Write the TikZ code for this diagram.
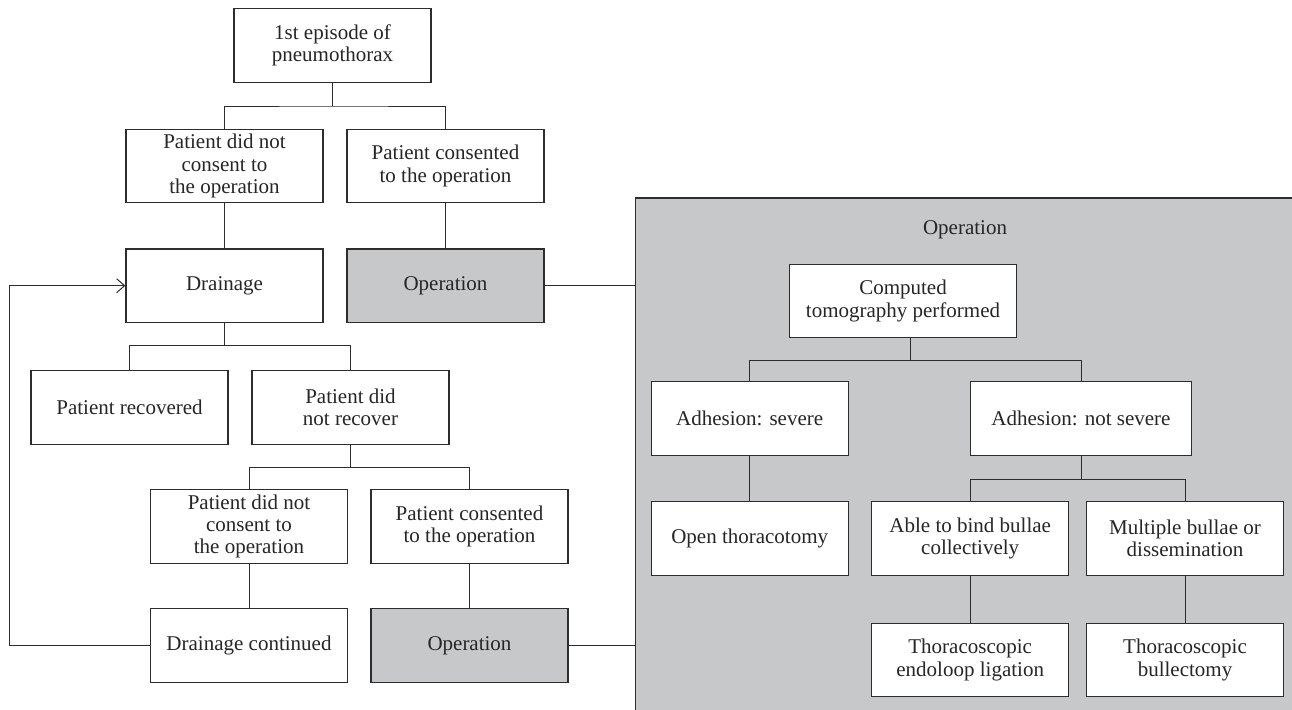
\documentclass[tikz,border=0pt]{standalone}
\usepackage{fontspec}
\setmainfont{Liberation Serif}
\usetikzlibrary{arrows.meta,calc}
\definecolor{panelgray}{RGB}{199,200,202}
\definecolor{linegray}{RGB}{45,45,45}
\tikzset{
  txt/.style={font=\fontsize{10.5}{11.2}\selectfont, text=black!85},
  box/.style={txt, draw=linegray, line width=0.65pt, fill=white,
    minimum width=98.5pt, minimum height=36.8pt, inner sep=0pt, align=center},
  greybox/.style={box, fill=panelgray},
  conn/.style={draw=linegray, line width=0.5pt},
  panelbox/.style={draw=linegray, line width=0.65pt, fill=panelgray, inner sep=0pt,
    minimum width=332.5pt, minimum height=258.9pt, anchor=north west},
}
\begin{document}
\begin{tikzpicture}[x=0.5pt,y=-0.5pt]
\useasboundingbox (0,0) rectangle (1292,709);
% panel
\node[panelbox] (panel) at (635,197.3) {};
\node[txt] (oplabel) at (965,230) {Operation};

% left tree nodes
\node[box] (ep) at (332.5,45.5) {1st episode of\\pneumothorax};
\node[box] (nc1) at (224.5,166) {Patient did not\\consent to\\the operation};
\node[box] (c1) at (445.5,166) {Patient consented\\to the operation};
\node[box] (dr) at (224.5,285.7) {Drainage};
\node[greybox] (op1) at (445.5,285.7) {Operation};
\node[box] (rec) at (129.5,407.5) {Patient recovered};
\node[box] (nrec) at (350.5,407.5) {Patient did\\not recover};
\node[box] (nc2) at (249,526.5) {Patient did not\\consent to\\the operation};
\node[box] (c2) at (469.5,526.5) {Patient consented\\to the operation};
\node[box] (drc) at (249,645.5) {Drainage continued};
\node[greybox] (op2) at (469.5,645.5) {Operation};

% panel nodes
\node[box, minimum width=113.7pt] (ct) at (903,301) {Computed\\tomography performed};
\node[box] (sev) at (749.7,418.5) {Adhesion: severe};
\node[box, minimum width=110.7pt] (nsev) at (1081,418.5) {Adhesion: not severe};
\node[box] (ot) at (749.7,538.5) {Open thoracotomy};
\node[box] (bind) at (970.2,538.5) {Able to bind bullae\\collectively};
\node[box] (mult) at (1185,538.5) {Multiple bullae or\\dissemination};
\node[box] (endo) at (970.2,660) {Thoracoscopic\\endoloop ligation};
\node[box] (bull) at (1185,660) {Thoracoscopic\\bullectomy};

% junction coordinates
\coordinate (m1) at (332.5,106);
\coordinate (m2) at (224.5,345);
\coordinate (m3) at (350.5,467.7);
\coordinate (m4) at (910.7,360);
\coordinate (m5) at (1081,479);
\coordinate (lp) at (9.7,0);

% connectors left
\draw[conn] (ep.south) -- (m1);
\draw[conn] (nc1.north) |- (m1) -| (c1.north);
\draw[conn] (nc1.south) -- (dr.north);
\draw[conn] (c1.south) -- (op1.north);
\draw[conn] (dr.south) -- (m2);
\draw[conn] (rec.north) |- (m2) -| (nrec.north);
\draw[conn] (nrec.south) -- (m3);
\draw[conn] (nc2.north) |- (m3) -| (c2.north);
\draw[conn] (nc2.south) -- (drc.north);
\draw[conn] (c2.south) -- (op2.north);
\draw[conn, -{Straight Barb[length=4pt,width=7pt,line width=0.5pt]}]
  (drc.west) -- (drc.west -| lp) |- (dr.west);
\draw[conn] (op1.east) -- (op1.east -| panel.west);
\draw[conn] (op2.east) -- (op2.east -| panel.west);

% connectors panel
\draw[conn] (ct.south -| m4) -- (m4);
\draw[conn] (sev.north) |- (m4) -| (nsev.north);
\draw[conn] (sev.south) -- (ot.north);
\draw[conn] (nsev.south) -- (m5);
\draw[conn] (bind.north) |- (m5) -| (mult.north);
\draw[conn] (bind.south) -- (endo.north);
\draw[conn] (mult.south) -- (bull.north);
\end{tikzpicture}
\end{document}
